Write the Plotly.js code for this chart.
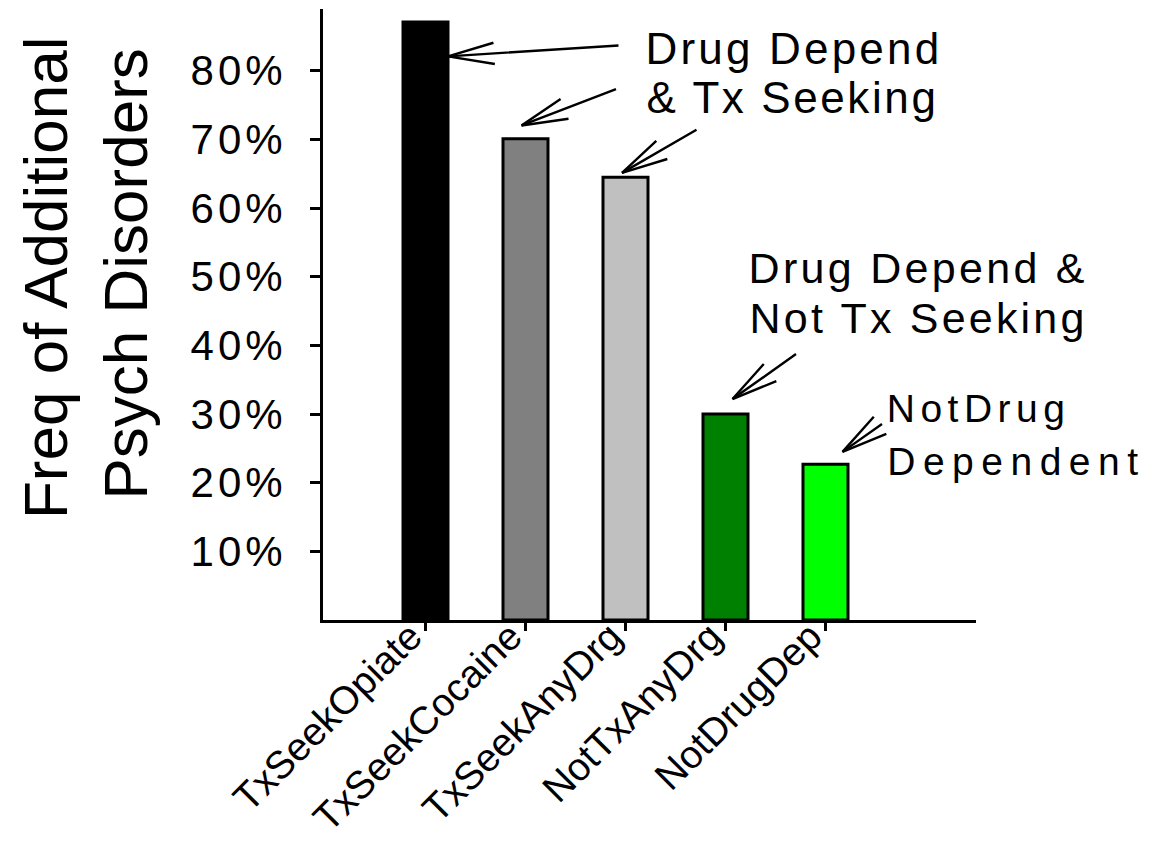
<!DOCTYPE html>
<html>
<head>
<meta charset="utf-8">
<script src="https://cdn.plot.ly/plotly-3.0.1.min.js"></script>
<style>
html, body { margin: 0; padding: 0; background: #ffffff; }
#chart { width: 1153px; height: 845px; }
.ytick text { letter-spacing: 4px; }
</style>
</head>
<body>
<div id="chart"></div>
<script>
// ---- data ----
const categories = ["TxSeekOpiate", "TxSeekCocaine", "TxSeekAnyDrg", "NotTxAnyDrg", "NotDrugDep"];
const freqPct = [87.1, 70.1, 64.5, 30.0, 22.7];
const barColors = ["#000000", "#808080", "#c0c0c0", "#008000", "#00ff00"];
const yTickVals = [10, 20, 30, 40, 50, 60, 70, 80];
const yTickText = yTickVals.map(v => v + "%");
const yTitleLines = ["Freq of Additional", "Psych Disorders"];
const groupLabels = ["Drug Depend", "& Tx Seeking", "Drug Depend &", "Not Tx Seeking", "NotDrug", "Dependent"];

// ---- styling / placement (pixels) ----
const FONT = "Liberation Sans, Arial, Helvetica, sans-serif";
const PLOT = { l: 323, r: 976, t: 9, b: 620 };
const W = 1153, H = 845;
const px2x = px => (px - PLOT.l) / (PLOT.r - PLOT.l);
const px2y = py => (PLOT.b - py) / (PLOT.b - PLOT.t);

// arrow per bar: tip shift from bar-top centre [dx, dy(down)], tail offset [ax, ay]
const arrowStyle = [
  { dx: 22.5, dy: 34.3, ax: 172, ay: -11 },
  { dx: -4,   dy: -13.3, ax: 96, ay: -37 },
  { dx: -3.5, dy: -4.3, ax: 76, ay: -44 },
  { dx: 7,    dy: -15,  ax: 65, ay: -46 },
  { dx: 17,   dy: -12.3, ax: 41, ay: -29 }
];
const ARM_LEN = 49, ARM_ANG = 13 * Math.PI / 180, ARROW_W = 2.4;

// label placement: centre px, centre py, font size, letter spacing
const labelStyle = [
  { x: 794,  y: 49,  size: 44, ls: 3.2 },
  { x: 792,  y: 98,  size: 44, ls: 2.6 },
  { x: 918,  y: 268, size: 43, ls: 3.3 },
  { x: 918,  y: 318, size: 43, ls: 3.2 },
  { x: 978,  y: 409, size: 39, ls: 5.5 },
  { x: 1016, y: 461, size: 39, ls: 7.5 }
];
const titleStyle = [
  { x: 45,    y: 278, size: 62 },
  { x: 124.5, y: 274, size: 62 }
];

const annotations = [];
const spacingCSS = [];

categories.forEach((c, i) => {
  const s = arrowStyle[i];
  const base = {
    x: c, y: freqPct[i], xref: "x", yref: "y",
    xshift: s.dx, yshift: -s.dy,
    text: "", showarrow: true, arrowhead: 0, arrowwidth: ARROW_W,
    arrowcolor: "#000000", standoff: 0, startstandoff: 0,
    axref: "pixel", ayref: "pixel"
  };
  const th = Math.atan2(s.ay, s.ax);
  annotations.push(Object.assign({}, base, { ax: s.ax, ay: s.ay }));
  [-ARM_ANG, ARM_ANG].forEach(d => {
    annotations.push(Object.assign({}, base, {
      ax: ARM_LEN * Math.cos(th + d), ay: ARM_LEN * Math.sin(th + d)
    }));
  });
});

groupLabels.forEach((t, i) => {
  const s = labelStyle[i];
  spacingCSS.push('g.annotation[data-index="' + annotations.length + '"] text{letter-spacing:' + s.ls + 'px;}');
  annotations.push({
    text: t, xref: "paper", yref: "paper", x: px2x(s.x), y: px2y(s.y),
    xanchor: "center", yanchor: "middle", showarrow: false,
    font: { family: FONT, size: s.size, color: "#000000" }
  });
});

yTitleLines.forEach((t, i) => {
  const s = titleStyle[i];
  annotations.push({
    text: t, xref: "paper", yref: "paper", x: px2x(s.x), y: px2y(s.y),
    xanchor: "center", yanchor: "middle", textangle: -90, showarrow: false,
    font: { family: FONT, size: s.size, color: "#000000" }
  });
});

const styleEl = document.createElement("style");
styleEl.textContent = spacingCSS.join("\n");
document.head.appendChild(styleEl);

const trace = {
  type: "bar",
  x: categories,
  y: freqPct,
  width: 0.45,
  marker: { color: barColors, line: { color: "#000000", width: 3 } },
  hoverinfo: "x+y"
};

const layout = {
  width: W, height: H,
  margin: { l: PLOT.l, r: W - PLOT.r, t: PLOT.t, b: H - PLOT.b, pad: 0 },
  paper_bgcolor: "#ffffff", plot_bgcolor: "#ffffff",
  showlegend: false,
  font: { family: FONT, color: "#000000" },
  xaxis: {
    type: "category", range: [-1.025, 5.505],
    showline: true, linewidth: 3, linecolor: "#000000",
    ticks: "outside", ticklen: 8, tickwidth: 3, tickcolor: "#000000",
    tickangle: -45, tickfont: { family: FONT, size: 39, color: "#000000" },
    ticklabelshift: -15, ticklabelstandoff: -33,
    showgrid: false, zeroline: false, automargin: false, fixedrange: true
  },
  yaxis: {
    range: [0, 89], tickmode: "array", tickvals: yTickVals, ticktext: yTickText,
    showline: true, linewidth: 3, linecolor: "#000000",
    ticks: "outside", ticklen: 10, tickwidth: 3, tickcolor: "#000000",
    tickfont: { family: FONT, size: 42, color: "#000000" },
    ticklabelstandoff: 15,
    showgrid: false, zeroline: false, automargin: false, fixedrange: true
  },
  annotations: annotations
};

Plotly.newPlot("chart", [trace], layout, { displayModeBar: false, staticPlot: true });
</script>
</body>
</html>
